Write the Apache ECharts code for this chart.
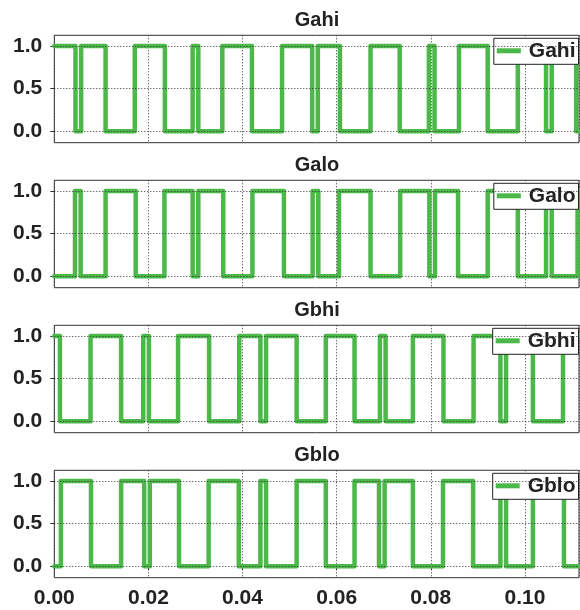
<!DOCTYPE html>
<html>
<head>
<meta charset="utf-8">
<script src="https://cdn.jsdelivr.net/npm/echarts@6/dist/echarts.min.js"></script>
<style>html,body{margin:0;padding:0;background:#fff}#c{width:580px;height:610px}</style>
</head>
<body>
<div id="c"></div>
<script>
// ---- data ----
var signalNames = ['Gahi', 'Galo', 'Gbhi', 'Gblo'];
var initialStates = [1, 0, 1, 0];
var gahiEdges = [0.0045, 0.0057, 0.0109, 0.0171, 0.0235, 0.0294, 0.0306, 0.0357, 0.0420, 0.0484, 0.0548, 0.0560, 0.0607, 0.0672, 0.0734, 0.0796, 0.0808, 0.0860, 0.0921, 0.0985, 0.1045, 0.1057, 0.1109];
var galoEdges = [0.0044, 0.0056, 0.0109, 0.0173, 0.0234, 0.0294, 0.0306, 0.0359, 0.0421, 0.0488, 0.0549, 0.0561, 0.0605, 0.0672, 0.0735, 0.0797, 0.0809, 0.0858, 0.0921, 0.0985, 0.1045, 0.1057, 0.1112];
var gbhiEdges = [0.0012, 0.0077, 0.0142, 0.0189, 0.0201, 0.0263, 0.0329, 0.0393, 0.0438, 0.0450, 0.0515, 0.0577, 0.0638, 0.0692, 0.0704, 0.0762, 0.0827, 0.0891, 0.0948, 0.0960, 0.1017, 0.1081];
var gbloEdges = [0.0014, 0.0078, 0.0142, 0.0191, 0.0203, 0.0265, 0.0328, 0.0392, 0.0438, 0.0450, 0.0515, 0.0577, 0.0638, 0.0690, 0.0702, 0.0762, 0.0826, 0.0890, 0.0948, 0.0960, 0.1017, 0.1083];
var xTickLabels = ['0.00', '0.02', '0.04', '0.06', '0.08', '0.10'];
var yTickValues = [0, 0.5, 1];
var yTickLabels = ['0.0', '0.5', '1.0'];
var tStart = 0, tEnd = 0.1115;

// ---- build ----
var allEdges = [gahiEdges, galoEdges, gbhiEdges, gbloEdges];
function buildSteps(init, edges) {
  var pts = [[tStart, init]];
  var v = init;
  edges.forEach(function (t) { v = 1 - v; pts.push([t, v]); });
  pts.push([tEnd, v]);
  return pts;
}
var FONT = '"Liberation Sans", Arial, sans-serif';
var GREEN = '#4cb84a';
var TXT = '#222';
var gridTop0 = 35.3, gridH = 107.4, pitch = 145;

var grids = [], xAxes = [], yAxes = [], series = [], titles = [], legends = [];
signalNames.forEach(function (name, i) {
  var top = gridTop0 + pitch * i;
  var last = i === signalNames.length - 1;
  grids.push({ left: 54.3, right: 1, top: top, height: gridH, show: true, borderColor: '#333', borderWidth: 1, backgroundColor: 'transparent' });
  xAxes.push({
    type: 'value', gridIndex: i, min: tStart, max: tEnd, interval: 0.02,
    axisLine: { show: false },
    axisTick: { show: last, length: 4, lineStyle: { color: '#333' } },
    axisLabel: {
      show: last, showMaxLabel: false, margin: 10,
      color: TXT, fontFamily: FONT, fontWeight: 'bold', fontSize: 21,
      formatter: function (v) { var k = Math.round(v / 0.02); return xTickLabels[k] !== undefined ? xTickLabels[k] : ''; }
    },
    splitLine: { show: true, lineStyle: { color: '#333', width: 1, type: [1, 2] } }
  });
  yAxes.push({
    type: 'value', gridIndex: i, min: -0.135, max: 1.125,
    axisLine: { show: false },
    axisTick: { show: true, length: 4, customValues: yTickValues, lineStyle: { color: '#333' } },
    axisLabel: {
      customValues: yTickValues, margin: 12,
      color: TXT, fontFamily: FONT, fontWeight: 'bold', fontSize: 21,
      formatter: function (v) { var k = yTickValues.indexOf(Math.round(v * 2) / 2); return k >= 0 ? yTickLabels[k] : ''; }
    },
    splitLine: { show: false }
  });
  series.push({
    type: 'line', name: '_grid' + i, xAxisIndex: i, yAxisIndex: i, data: [], z: 1, silent: true,
    markLine: {
      silent: true, symbol: 'none', animation: false, label: { show: false },
      lineStyle: { color: '#333', width: 1, type: [1, 2] },
      data: yTickValues.map(function (v) { return { yAxis: v }; })
    }
  });
  series.push({
    type: 'line', name: name, xAxisIndex: i, yAxisIndex: i, z: 3,
    step: 'end', showSymbol: false, symbol: 'none',
    data: buildSteps(initialStates[i], allEdges[i]),
    lineStyle: { color: GREEN, width: 4.5, join: 'round', cap: 'round' },
    itemStyle: { color: GREEN }
  });
  titles.push({
    text: name, left: 317, top: 10 + pitch * i, textAlign: 'center', padding: 0,
    textStyle: { color: TXT, fontFamily: FONT, fontWeight: 'bold', fontSize: 20 }
  });
  legends.push({
    data: [name], right: 1.5, top: top + 3, orient: 'horizontal',
    backgroundColor: '#fff', borderColor: '#222', borderWidth: 1, borderRadius: 0,
    padding: [2, 3, 3, 3], icon: 'rect', itemWidth: 24, itemHeight: 5,
    textStyle: { color: TXT, fontFamily: FONT, fontWeight: 'bold', fontSize: 21, padding: [0, 0, 0, 3] },
    selectedMode: false
  });
});

var chart = echarts.init(document.getElementById('c'), null, { renderer: 'canvas' });
chart.setOption({
  animation: false,
  backgroundColor: '#fff',
  title: titles,
  legend: legends,
  grid: grids,
  xAxis: xAxes,
  yAxis: yAxes,
  series: series
});
</script>
</body>
</html>
